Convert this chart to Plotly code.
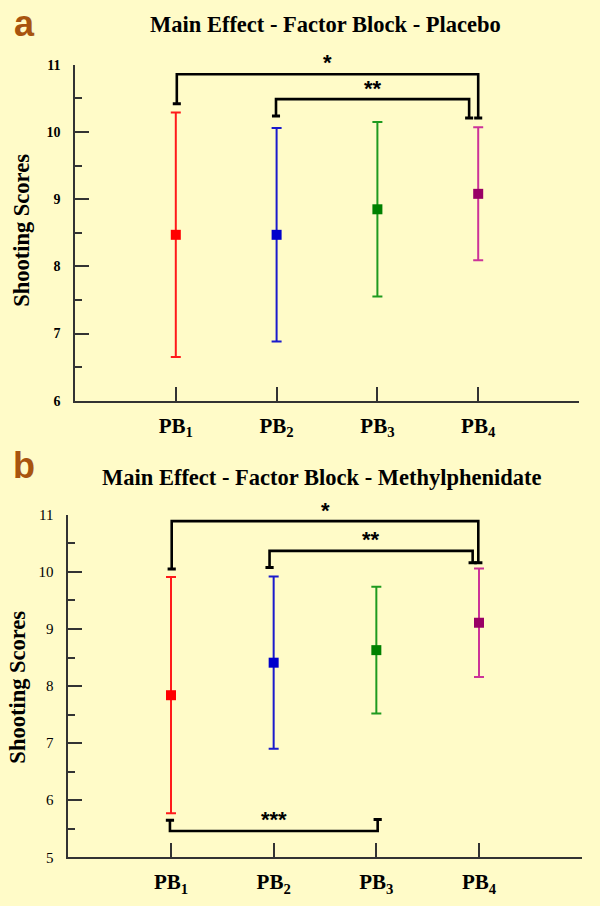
import plotly.graph_objects as go

# ---------------- data ----------------
categories = ["PB1", "PB2", "PB3", "PB4"]
tick_labels = ["PB<sub>1</sub>", "PB<sub>2</sub>", "PB<sub>3</sub>", "PB<sub>4</sub>"]

placebo_mean = [8.47, 8.47, 8.85, 9.08]
placebo_err = [1.82, 1.59, 1.30, 0.99]

mph_mean = [7.84, 8.41, 8.63, 9.11]
mph_err = [2.07, 1.51, 1.11, 0.95]

# significance brackets: (from, to, bracket level, end of left leg, end of right leg, label)
placebo_sig = [
    ("PB1", "PB4", 10.86, 10.42, 10.21, "*"),
    ("PB2", "PB4", 10.49, 10.24, 10.21, "**"),
]
mph_sig = [
    ("PB1", "PB4", 10.89, 10.05, 10.16, "*"),
    ("PB2", "PB4", 10.37, 10.08, 10.16, "**"),
    ("PB1", "PB3", 5.46, 5.65, 5.66, "***"),
]

titles = ["Main Effect - Factor Block - Placebo",
          "Main Effect - Factor Block - Methylphenidate"]
panel_letters = ["a", "b"]
y_title = "Shooting Scores"

# ---------------- style ----------------
marker_colors = ["#ff0000", "#0000cc", "#008000", "#990066"]
bar_colors = ["#ff1a1a", "#1a1acc", "#1f9a1f", "#cc3399"]
bg = "#fffbc8"
axis_col = "#333333"
letter_col = "#a8540f"
W, H = 600, 906
# vertical calibration of the photographed page (observed: shown_y = 0.9827*y + 8.12)
VS, VO = 0.9827, 8.12
# small horizontal nudges of bracket legs (x data units) so legs sit side by side
placebo_nudge = [(0.01, 0.0), (-0.006, -0.09)]
mph_nudge = [(0.007, -0.007), (-0.04, -0.062), (-0.01, 0.013)]
cap_half = 0.04


def px_x(x):
    return x / W


def px_y(y):
    return 1 - ((y - VO) / VS) / H


fig = go.Figure()

panels = [
    dict(mean=placebo_mean, err=placebo_err, sig=placebo_sig, nudge=placebo_nudge,
         xa="x", ya="y", lab_shift=[12, 11]),
    dict(mean=mph_mean, err=mph_err, sig=mph_sig, nudge=mph_nudge,
         xa="x2", ya="y2", lab_shift=[11, 11, 12]),
]

for p in panels:
    for i, c in enumerate(categories):
        fig.add_trace(go.Scatter(
            x=[i + 1], y=[p["mean"][i]], mode="markers", name=c,
            marker=dict(symbol="square", size=10, color=marker_colors[i]),
            error_y=dict(type="data", array=[p["err"][i]], visible=True,
                         color=bar_colors[i], thickness=2, width=5),
            xaxis=p["xa"], yaxis=p["ya"], showlegend=False, cliponaxis=False,
        ))
    for (a, b, lvl, ea, eb, lab), (na, nb), ys in zip(p["sig"], p["nudge"], p["lab_shift"]):
        xa_ = categories.index(a) + 1 + na
        xb_ = categories.index(b) + 1 + nb
        fig.add_shape(type="path",
                      path=f"M {xa_},{ea} L {xa_},{lvl} L {xb_},{lvl} L {xb_},{eb}",
                      xref=p["xa"], yref=p["ya"],
                      line=dict(color="black", width=2.6))
        for xx, ee in [(xa_, ea), (xb_, eb)]:
            fig.add_shape(type="line", x0=xx - cap_half, x1=xx + cap_half, y0=ee, y1=ee,
                          xref=p["xa"], yref=p["ya"],
                          line=dict(color="black", width=3))
        fig.add_annotation(x=(xa_ + xb_) / 2, y=lvl, xref=p["xa"], yref=p["ya"],
                           text=lab, showarrow=False, yshift=ys, yanchor="middle",
                           font=dict(family="Liberation Sans", size=22, color="black",
                                     weight="bold"))

common_x = dict(range=[0, 5], tickvals=[1, 2, 3, 4, 5], ticktext=tick_labels + [""],
                ticks="inside", ticklen=14, tickwidth=1.5, tickcolor=axis_col,
                showline=True, linecolor=axis_col, linewidth=1.6,
                showgrid=False, zeroline=False, fixedrange=True,
                tickfont=dict(family="Liberation Serif", size=21, color="black", weight="bold"),
                ticklabelstandoff=5)

fig.update_layout(
    width=W, height=H, paper_bgcolor=bg, plot_bgcolor=bg,
    margin=dict(l=0, r=0, t=0, b=0),
    xaxis=dict(domain=[px_x(75), px_x(579)], anchor="y", **common_x),
    yaxis=dict(domain=[px_y(401), px_y(65)], anchor="x", range=[6, 11], dtick=1,
               ticks="inside", ticklen=14, tickwidth=1.5, tickcolor=axis_col,
               minor=dict(dtick=0.5, ticks="inside", ticklen=7, tickwidth=1.5, tickcolor=axis_col),
               showline=True, linecolor=axis_col, linewidth=1.6, showgrid=False,
               zeroline=False, ticklabelstandoff=10, fixedrange=True,
               tickfont=dict(family="Liberation Serif", size=14, color="black", weight="bold")),
    xaxis2=dict(domain=[px_x(68.3), px_x(581.7)], anchor="y2", **common_x),
    yaxis2=dict(domain=[px_y(857.7), px_y(515.2)], anchor="x2", range=[5, 11], dtick=1,
                ticks="inside", ticklen=14, tickwidth=1.5, tickcolor=axis_col,
                minor=dict(dtick=0.5, ticks="inside", ticklen=7, tickwidth=1.5, tickcolor=axis_col),
                showline=True, linecolor=axis_col, linewidth=1.6, showgrid=False,
                zeroline=False, ticklabelstandoff=10, fixedrange=True,
                tickfont=dict(family="Liberation Serif", size=15, color="black")),
)

# titles, panel letters, y-axis titles (page pixel positions)
title_pos = [(325, 25), (322, 478)]
letter_pos = [(24, 24), (24, 466)]
ytitle_pos = [(22, 231), (18, 688)]
for k in range(2):
    fig.add_annotation(x=px_x(title_pos[k][0]), y=px_y(title_pos[k][1]), xref="paper", yref="paper",
                       text=titles[k], showarrow=False, xanchor="center", yanchor="middle",
                       font=dict(family="Liberation Serif", size=22.5, color="black", weight="bold"))
    fig.add_annotation(x=px_x(letter_pos[k][0]), y=px_y(letter_pos[k][1]), xref="paper", yref="paper",
                       text=panel_letters[k], showarrow=False, xanchor="center", yanchor="middle",
                       font=dict(family="Liberation Sans", size=36, color=letter_col, weight="bold"))
    fig.add_annotation(x=px_x(ytitle_pos[k][0]), y=px_y(ytitle_pos[k][1]), xref="paper", yref="paper",
                       text=y_title, showarrow=False, textangle=-90, xanchor="center", yanchor="middle",
                       font=dict(family="Liberation Serif", size=22.5, color="black", weight="bold"))

fig.write_html(
    "out.html",
    config={"displayModeBar": False},
    post_script=("document.body.style.margin='0';"
                 "document.body.style.background='" + bg + "';"),
)
